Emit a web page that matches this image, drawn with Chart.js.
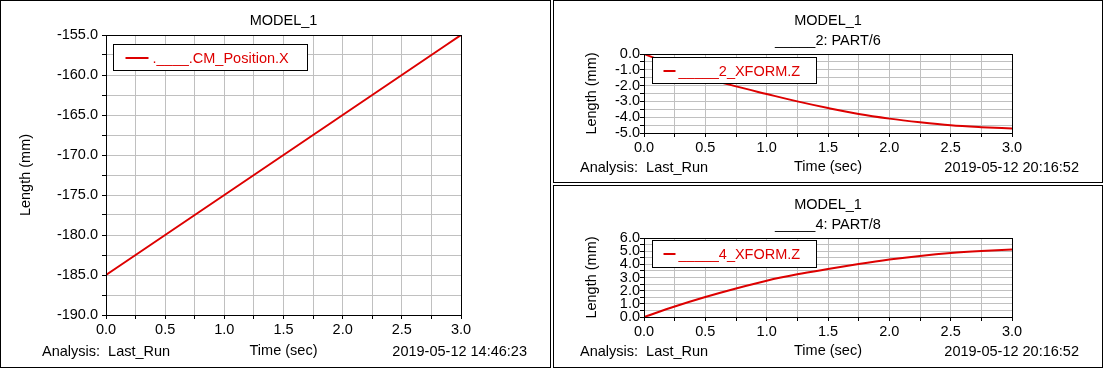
<!DOCTYPE html>
<html>
<head>
<meta charset="utf-8">
<script src="https://cdn.jsdelivr.net/npm/chart.js@4.4.0/dist/chart.umd.min.js"></script>
<style>
  body { margin: 0; background: #fff; width: 1105px; height: 369px; overflow: hidden; position: relative;
         font-family: 'Liberation Sans', Arial, sans-serif; }
  .panel { position: absolute; border: 1px solid #000; background: #fff; }
  .panel canvas { position: absolute; left: 0; top: 0; }
  .foot { position: absolute; font-size: 14.5px; line-height: 16px; color: #000; white-space: pre; }
</style>
</head>
<body>

<div class="panel" style="left:0;top:0;width:549px;height:366px">
  <canvas id="chartCM" width="549" height="366"></canvas>
  <span class="foot" style="left:41px;top:342px">Analysis:  Last_Run</span>
  <span class="foot" style="right:23px;top:342px">2019-05-12 14:46:23</span>
</div>

<div class="panel" style="left:553px;top:0;width:548px;height:181px">
  <canvas id="chartPart6" width="548" height="181"></canvas>
  <span class="foot" style="left:26px;top:158px">Analysis:  Last_Run</span>
  <span class="foot" style="right:23px;top:158px">2019-05-12 20:16:52</span>
</div>

<div class="panel" style="left:553px;top:185px;width:548px;height:181px">
  <canvas id="chartPart8" width="548" height="181"></canvas>
  <span class="foot" style="left:26px;top:157px">Analysis:  Last_Run</span>
  <span class="foot" style="right:23px;top:157px">2019-05-12 20:16:52</span>
</div>

<script>
// temps (s) et valeurs
const timeSec = [0, 0.25, 0.5, 0.75, 1.0, 1.25, 1.5, 1.75, 2.0, 2.25, 2.5, 2.75, 3.0];
const cmPositionX = [-185, -182.5, -180, -177.5, -175, -172.5, -170, -167.5, -165, -162.5, -160, -157.5, -155];
const part6XformZ = [0, -0.75, -1.5, -2.05, -2.53, -3.0, -3.42, -3.8, -4.09, -4.32, -4.51, -4.63, -4.72];
const part8XformZ = [0, 0.8, 1.52, 2.17, 2.76, 3.24, 3.64, 4.02, 4.36, 4.64, 4.86, 5.01, 5.12];

// graduations avec etiquette
const xMajorTicks = [0, 0.5, 1, 1.5, 2, 2.5, 3];
const cmYMajorTicks = [-190, -185, -180, -175, -170, -165, -160, -155];
const part6YMajorTicks = [-5, -4, -3, -2, -1, 0];
const part8YMajorTicks = [0, 1, 2, 3, 4, 5, 6];

const lineRed = '#dd0000';
const gridGray = '#c0c0c0';
const fontFamily = "'Liberation Sans', Arial, sans-serif";

Chart.defaults.font.family = fontFamily;
Chart.defaults.font.size = 14.5;
Chart.defaults.color = '#000';

// cadre noir autour de la zone de tracé
const plotFrame = {
  id: 'plotFrame',
  afterDatasetsDraw(chart) {
    const a = chart.chartArea, ctx = chart.ctx;
    ctx.save();
    ctx.strokeStyle = '#000';
    ctx.lineWidth = 1;
    ctx.strokeRect(Math.round(a.left) + 0.5, Math.round(a.top) + 0.5,
                   Math.round(a.right - a.left), Math.round(a.bottom - a.top));
    ctx.restore();
  }
};

// légende encadrée dans la zone de tracé
const boxLegend = {
  id: 'boxLegend',
  afterDatasetsDraw(chart, args, opts) {
    const a = chart.chartArea, ctx = chart.ctx;
    const ds = chart.data.datasets[0];
    const x = Math.round(a.left) + opts.dx + 0.5;
    const y = Math.round(a.top) + opts.dy + 0.5;
    const mid = Math.round(y + opts.h / 2);
    ctx.save();
    ctx.fillStyle = '#fff';
    ctx.fillRect(x, y, opts.w, opts.h);
    ctx.strokeStyle = '#000';
    ctx.lineWidth = 1;
    ctx.strokeRect(x, y, opts.w, opts.h);
    ctx.strokeStyle = ds.borderColor;
    ctx.lineWidth = 2;
    ctx.beginPath();
    ctx.moveTo(x + opts.lineFrom, mid);
    ctx.lineTo(x + opts.lineTo, mid);
    ctx.stroke();
    ctx.fillStyle = ds.borderColor;
    ctx.font = '14.5px ' + fontFamily;
    ctx.textBaseline = 'middle';
    ctx.fillText(ds.label, x + opts.textX, mid + 1);
    ctx.restore();
  }
};

function buildChart(id, o) {
  return new Chart(document.getElementById(id), {
    type: 'line',
    data: {
      datasets: [{
        label: o.label,
        data: timeSec.map((t, i) => ({ x: t, y: o.values[i] })),
        borderColor: lineRed,
        borderWidth: 2,
        pointRadius: 0,
        cubicInterpolationMode: 'monotone'
      }]
    },
    options: {
      responsive: false,
      animation: false,
      events: [],
      layout: { padding: { left: 0, top: 0, bottom: 0, right: o.padRight } },
      plugins: {
        legend: { display: false },
        tooltip: { enabled: false },
        title: {
          display: true,
          fullSize: false, // centré sur la zone de tracé
          text: o.title,
          color: '#000',
          font: { size: 14.5, weight: 'normal', lineHeight: '20px' },
          padding: { top: o.titleTop, bottom: o.titleBottom }
        },
        boxLegend: o.legend
      },
      scales: {
        x: {
          type: 'linear',
          min: 0,
          max: 3,
          ticks: {
            stepSize: 0.25,
            autoSkip: false,
            maxRotation: 0,
            padding: 2,
            color: '#000',
            callback: v => xMajorTicks.includes(v) ? v.toFixed(1) : ''
          },
          grid: { color: gridGray, tickColor: '#000', tickLength: 4 },
          border: { display: false },
          title: { display: true, text: 'Time (sec)', color: '#000', padding: { top: 0, bottom: o.xTitlePad } },
          afterFit: s => { s.height = o.xHeight; }
        },
        y: {
          type: 'linear',
          min: o.yMin,
          max: o.yMax,
          ticks: {
            stepSize: o.yStep,
            autoSkip: false,
            padding: o.yTickPad,
            color: '#000',
            callback: v => o.yMajor.includes(v) ? v.toFixed(1) : ''
          },
          grid: { color: gridGray, tickColor: '#000', tickLength: 4 },
          border: { display: false },
          title: { display: true, text: 'Length (mm)', color: '#000', padding: { top: o.yTitlePad, bottom: 0 } },
          afterFit: s => { s.width = o.yWidth; }
        }
      }
    },
    plugins: [plotFrame, boxLegend]
  });
}

buildChart('chartCM', {
  label: '.____.CM_Position.X',
  values: cmPositionX,
  title: 'MODEL_1',
  titleTop: 10, titleBottom: 4,
  padRight: 89,
  xHeight: 52, xTitlePad: 7.6,
  yMin: -190, yMax: -155, yStep: 2.5, yMajor: cmYMajorTicks,
  yWidth: 105, yTickPad: 4, yTitlePad: 16.6,
  legend: { dx: 7, dy: 9, w: 194, h: 26, lineFrom: 12, lineTo: 35, textX: 39 }
});

buildChart('chartPart6', {
  label: '_____2_XFORM.Z',
  values: part6XformZ,
  title: ['MODEL_1', '_____2: PART/6'],
  titleTop: 10, titleBottom: 3,
  padRight: 90,
  xHeight: 49, xTitlePad: 6.6,
  yMin: -5, yMax: 0, yStep: 0.5, yMajor: part6YMajorTicks,
  yWidth: 90, yTickPad: 0, yTitlePad: 29.6,
  legend: { dx: 8, dy: 3, w: 164, h: 26, lineFrom: 11, lineTo: 23, textX: 26 }
});

buildChart('chartPart8', {
  label: '_____4_XFORM.Z',
  values: part8XformZ,
  title: ['MODEL_1', '_____4: PART/8'],
  titleTop: 9, titleBottom: 3,
  padRight: 90,
  xHeight: 50, xTitlePad: 7.6,
  yMin: 0, yMax: 6, yStep: 0.5, yMajor: part8YMajorTicks,
  yWidth: 90, yTickPad: 0, yTitlePad: 29.6,
  legend: { dx: 8, dy: 2, w: 164, h: 27, lineFrom: 11, lineTo: 23, textX: 26 }
});
</script>
</body>
</html>
